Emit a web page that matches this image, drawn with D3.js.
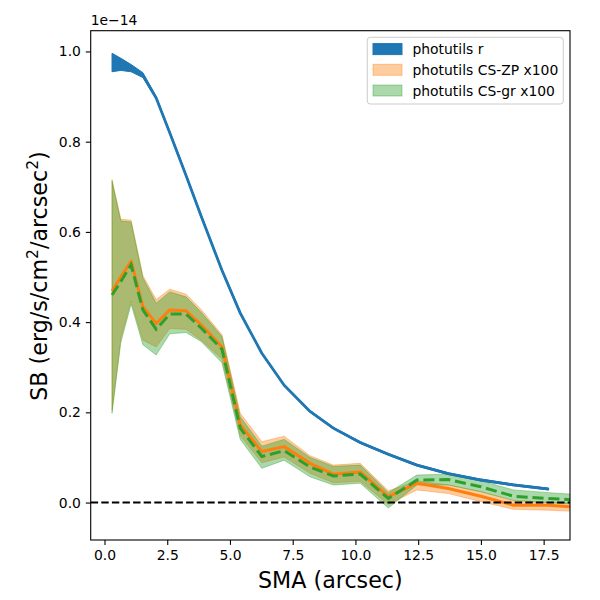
<!DOCTYPE html>
<html>
<head>
<meta charset="utf-8">
<script src="https://cdn.jsdelivr.net/npm/d3@7"></script>
<style>
  html, body { margin: 0; padding: 0; background: #fff; }
  svg { display: block; font-family: 'DejaVu Sans', sans-serif; }
</style>
</head>
<body>
<div id="chart"></div>
<script>
// ─── Data (SB in units of 1e-14) ────────────────────────────────
const sma = [0.3, 0.65, 1.06, 1.53, 2.06, 2.6, 3.25, 3.85, 4.68, 5.41, 6.27,
             7.16, 8.19, 9.12, 10.19, 11.31, 12.45, 13.7, 15.0, 16.3, 17.7, 19.0];

const rMid = [0.975, 0.972, 0.963, 0.947, 0.897, 0.82, 0.725, 0.635, 0.515, 0.42, 0.331,
              0.26, 0.202, 0.165, 0.133, 0.107, 0.083, 0.064, 0.05, 0.039, 0.03];
const rLo  = [0.955, 0.958, 0.955, 0.942, 0.894, 0.817, 0.722, 0.632, 0.512, 0.417, 0.329,
              0.258, 0.2, 0.163, 0.131, 0.105, 0.081, 0.062, 0.048, 0.037, 0.028];
const rHi  = [0.996, 0.985, 0.971, 0.953, 0.9, 0.823, 0.728, 0.638, 0.518, 0.423, 0.333,
              0.262, 0.204, 0.167, 0.135, 0.109, 0.085, 0.066, 0.052, 0.041, 0.032];

const zpMid = [0.469, 0.50, 0.535, 0.434, 0.397, 0.427, 0.425, 0.394, 0.345, 0.172, 0.113,
               0.124, 0.087, 0.063, 0.068, 0.013, 0.043, 0.031, 0.014, -0.006, -0.006, -0.011];
const zpLo  = [0.205, 0.365, 0.447, 0.36, 0.345, 0.386, 0.384, 0.36, 0.318, 0.148, 0.088,
               0.101, 0.065, 0.044, 0.047, -0.004, 0.028, 0.02, 0.002, -0.015, -0.017, -0.02];
const zpHi  = [0.716, 0.628, 0.626, 0.503, 0.45, 0.473, 0.462, 0.428, 0.372, 0.198, 0.135,
               0.147, 0.104, 0.083, 0.087, 0.026, 0.048, 0.039, 0.024, 0.004, 0.0, -0.002];

const grMid = [0.46, 0.49, 0.527, 0.427, 0.384, 0.418, 0.418, 0.387, 0.34, 0.165, 0.102,
               0.115, 0.079, 0.059, 0.063, 0.009, 0.05, 0.051, 0.035, 0.014, 0.009, 0.005];
const grLo  = [0.198, 0.355, 0.44, 0.35, 0.327, 0.374, 0.377, 0.357, 0.31, 0.14, 0.076,
               0.094, 0.057, 0.039, 0.043, -0.012, 0.039, 0.039, 0.024, 0.005, 0.0, -0.005];
const grHi  = [0.712, 0.624, 0.622, 0.498, 0.442, 0.467, 0.456, 0.422, 0.368, 0.19, 0.125,
               0.14, 0.1, 0.08, 0.083, 0.022, 0.061, 0.063, 0.048, 0.028, 0.022, 0.017];

const xTicks = [0, 2.5, 5, 7.5, 10, 12.5, 15, 17.5];
const yTicks = [0, 0.2, 0.4, 0.6, 0.8, 1.0];

const legendLabels = ['photutils r', 'photutils CS-ZP x100', 'photutils CS-gr x100'];

// ─── Layout ─────────────────────────────────────────────────────
const W = 600, H = 600;
const frame = { left: 90.7, right: 570, top: 30.7, bottom: 540 };
const C = { blue: '#1f77b4', orange: '#ff7f0e', green: '#2ca02c' };

const svg = d3.select('#chart').append('svg')
    .attr('width', W).attr('height', H);

const x = d3.scaleLinear().domain([-0.55, 18.55]).range([frame.left, frame.right]);
const y = d3.scaleLinear().domain([-0.083, 1.046]).range([frame.bottom, frame.top]);

svg.append('clipPath').attr('id', 'clip')
    .append('rect')
    .attr('x', frame.left).attr('y', frame.top)
    .attr('width', frame.right - frame.left)
    .attr('height', frame.bottom - frame.top);

const plot = svg.append('g').attr('clip-path', 'url(#clip)');

function rows(mid, lo, hi) {
    return mid.map((m, i) => ({ x: sma[i], m, lo: lo[i], hi: hi[i] }));
}
const rData = rows(rMid, rLo, rHi);
const zpData = rows(zpMid, zpLo, zpHi);
const grData = rows(grMid, grLo, grHi);

const area = d3.area().x(d => x(d.x)).y0(d => y(d.lo)).y1(d => y(d.hi));
const line = d3.line().x(d => x(d.x)).y(d => y(d.m));

// ── Bands ──
plot.append('path').attr('d', area(rData))
    .attr('fill', C.blue).attr('stroke', C.blue).attr('stroke-width', 1);
plot.append('path').attr('d', area(zpData))
    .attr('fill', C.orange).attr('fill-opacity', 0.4)
    .attr('stroke', C.orange).attr('stroke-opacity', 0.4).attr('stroke-width', 1);
plot.append('path').attr('d', area(grData))
    .attr('fill', C.green).attr('fill-opacity', 0.4)
    .attr('stroke', C.green).attr('stroke-opacity', 0.4).attr('stroke-width', 1);

// ── Lines ──
plot.append('path').attr('d', line(rData))
    .attr('fill', 'none').attr('stroke', C.blue).attr('stroke-width', 2.8)
    .attr('stroke-linejoin', 'round');
plot.append('path').attr('d', line(zpData))
    .attr('fill', 'none').attr('stroke', C.orange).attr('stroke-width', 3)
    .attr('stroke-linejoin', 'round');
plot.append('path').attr('d', line(grData))
    .attr('fill', 'none').attr('stroke', C.green).attr('stroke-width', 3)
    .attr('stroke-dasharray', '11.1,4.8');

// ── Zero line ──
plot.append('line')
    .attr('x1', frame.left).attr('x2', frame.right)
    .attr('y1', y(0)).attr('y2', y(0))
    .attr('stroke', '#000').attr('stroke-width', 2)
    .attr('stroke-dasharray', '7.4,3.2');

// ── Axes ──
const xAxis = svg.append('g')
    .attr('transform', `translate(0,${frame.bottom})`)
    .call(d3.axisBottom(x).tickValues(xTicks).tickFormat(d3.format('.1f'))
        .tickSizeInner(4.9).tickSizeOuter(0).tickPadding(4.9));
const yAxis = svg.append('g')
    .attr('transform', `translate(${frame.left},0)`)
    .call(d3.axisLeft(y).tickValues(yTicks).tickFormat(d3.format('.1f'))
        .tickSizeInner(4.9).tickSizeOuter(0).tickPadding(4.9));

[xAxis, yAxis].forEach(a => {
    a.select('.domain').remove();
    a.selectAll('line').attr('stroke', '#000').attr('stroke-width', 1.1);
    a.selectAll('text').attr('font-size', 13.9).attr('fill', '#000')
        .attr('font-family', 'DejaVu Sans, sans-serif');
});

svg.append('rect')
    .attr('x', frame.left).attr('y', frame.top)
    .attr('width', frame.right - frame.left)
    .attr('height', frame.bottom - frame.top)
    .attr('fill', 'none').attr('stroke', '#000').attr('stroke-width', 1.1);

// offset text
svg.append('text')
    .attr('x', frame.left).attr('y', 25)
    .attr('font-size', 13.9)
    .text('1e\u221214');

// axis labels
svg.append('text')
    .attr('x', (frame.left + frame.right) / 2).attr('y', 588)
    .attr('text-anchor', 'middle').attr('font-size', 22.2)
    .text('SMA (arcsec)');

const yl = svg.append('text')
    .attr('transform', 'translate(46.5,276) rotate(-90)')
    .attr('text-anchor', 'middle').attr('font-size', 22.2);
yl.append('tspan').text('SB (erg/s/cm');
yl.append('tspan').attr('font-size', 15.5).attr('dy', -9).text('2');
yl.append('tspan').attr('dy', 9).text('/arcsec');
yl.append('tspan').attr('font-size', 15.5).attr('dy', -9).text('2');
yl.append('tspan').attr('dy', 9).text(')');

// ── Legend ──
const lg = svg.append('g');
lg.append('rect')
    .attr('x', 367.3).attr('y', 37.3).attr('width', 196).attr('height', 66.7)
    .attr('rx', 3).attr('fill', '#fff').attr('fill-opacity', 0.8)
    .attr('stroke', '#cccccc').attr('stroke-width', 1);

const legendStyles = [
    { fill: C.blue, op: 1 },
    { fill: C.orange, op: 0.4 },
    { fill: C.green, op: 0.4 }
];
legendLabels.forEach((label, i) => {
    const cy = 49.2 + i * 20.7;
    lg.append('rect')
        .attr('x', 373).attr('y', cy - 5.6).attr('width', 29).attr('height', 11)
        .attr('fill', legendStyles[i].fill).attr('fill-opacity', legendStyles[i].op)
        .attr('stroke', legendStyles[i].fill).attr('stroke-opacity', legendStyles[i].op);
    lg.append('text')
        .attr('x', 412.5).attr('y', cy + 5)
        .attr('font-size', 13.9)
        .text(label);
});
</script>
</body>
</html>
